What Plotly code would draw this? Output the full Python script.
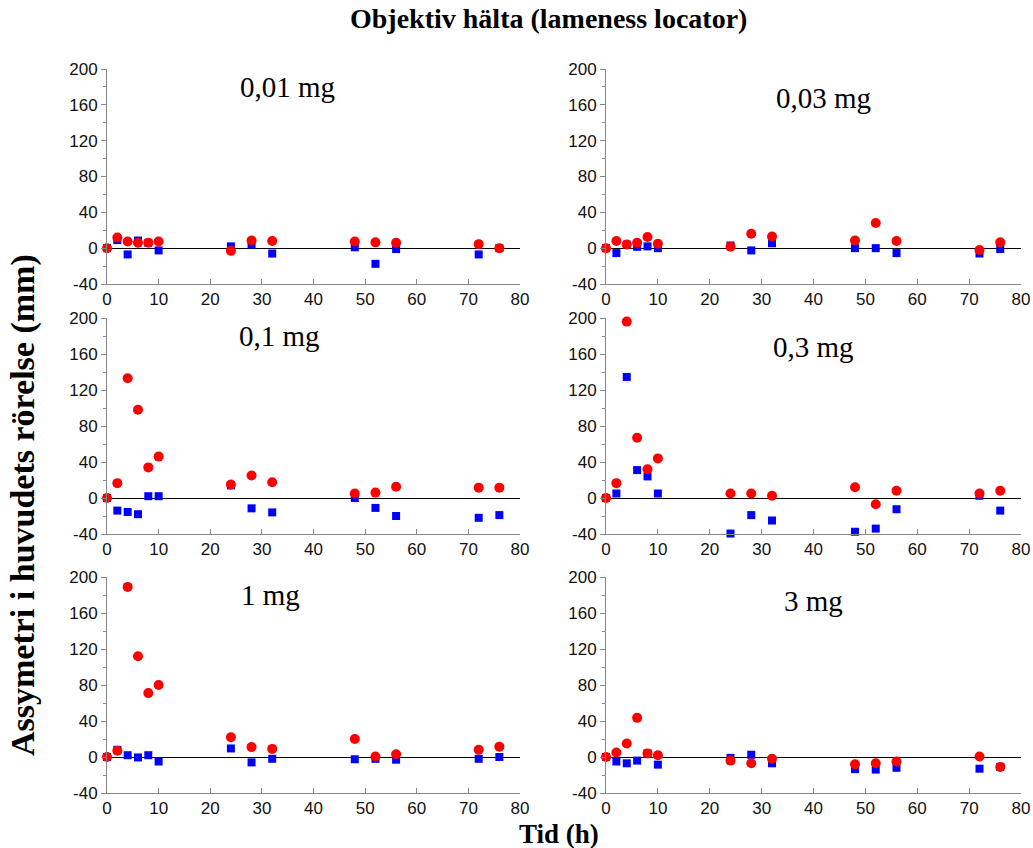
import plotly.graph_objects as go

# Sampling times (hours after dose)
tid = [0, 2, 4, 6, 8, 10, 24, 28, 32, 48, 52, 56, 72, 76]

# Dose groups
doser = ["0,01 mg", "0,03 mg", "0,1 mg", "0,3 mg", "1 mg", "3 mg"]

# Red series (circles), one list per dose
red_001 = [0, 12, 7.5, 6, 6, 7.5, -3, 8.5, 8, 7.5, 6.5, 6, 4.5, 0]
red_003 = [0, 8, 4, 6, 12.5, 5, 1.5, 16, 13, 8.5, 28, 8, -2, 6.5]
red_01 = [0, 16.5, 133, 98, 34, 46, 15, 25, 17.5, 5, 6, 12.5, 11.5, 11.5]
red_03 = [0, 16.5, 196, 67, 32, 44, 5, 5, 2.5, 12, -7, 8, 5, 8]
red_1 = [0, 7, 189, 112, 71, 80, 22, 11, 9, 20, 0.5, 3, 8, 11.5]
red_3 = [0, 5, 15, 43.5, 4, 2, -4, -7, -2, -8, -7, -5, 0.5, -11]

# Blue series (squares), one list per dose
blue_001 = [0, 9, -7, 8.5, 6, -2.5, 2, 4, -6, 1, -17.5, -1, -7, 0]
blue_003 = [0, -5.5, 4, 1.5, 2, 0, 3, -2.5, 5.5, 0, 0, -5.5, -6, -1]
blue_01 = [0, -14, -15.5, -18, 2, 2, 14, -11.5, -16, 0, -11, -20, -22, -19]
blue_03 = [0, 5, 134.5, 31, 24, 5, -39.5, -19, -25, -37.5, -34, -12.5, 2.5, -14]
blue_1 = [0, 8, 2, -0.5, 2, -5, 9.5, -6, -2, -2.5, -2, -3, -2, 0]
blue_3 = [0, -5, -7, -4, 4, -8.5, -1, 2.5, -7, -13.5, -14, -12, -13, -11]

red_series = [red_001, red_003, red_01, red_03, red_1, red_3]
blue_series = [blue_001, blue_003, blue_01, blue_03, blue_1, blue_3]

# Axis ticks
x_ticks = [0, 10, 20, 30, 40, 50, 60, 70, 80]
y_ticks = [-40, 0, 40, 80, 120, 160, 200]
y_ticktext = ["-40", "0", "40", "80", "120", "160", "200"]
y_minor = [-20, 20, 60, 100, 140, 180]

W, H = 1033, 848

# Panel layout (paper coordinates)
x_domains = [[107 / W, 520 / W], [606 / W, 1021 / W]]
y_domains = [[1 - 284 / H, 1 - 69 / H], [1 - 534 / H, 1 - 318 / H], [1 - 793 / H, 1 - 577 / H]]
# Dose label positions in data units (x, y)
label_pos = [(35, 180), (42, 168), (33.5, 180), (40, 168), (31.6, 180), (40, 173)]

SERIF = "Liberation Serif, Times New Roman, serif"
SANS = "Liberation Sans, Arial, sans-serif"

fig = go.Figure()
layout = dict(
    template="none",
    width=W, height=H,
    margin=dict(l=0, r=0, t=0, b=0, autoexpand=False),
    paper_bgcolor="white", plot_bgcolor="white",
    showlegend=False,
)

annotations = []
for i in range(6):
    row, col = divmod(i, 2)
    n = i + 1
    xa = "x" if n == 1 else f"x{n}"
    ya = "y" if n == 1 else f"y{n}"
    fig.add_trace(go.Scatter(
        x=tid, y=blue_series[i], mode="markers", xaxis=xa, yaxis=ya,
        marker=dict(symbol="square", size=8, color="#0000ff", line=dict(width=0)),
        cliponaxis=False,
    ))
    fig.add_trace(go.Scatter(
        x=tid, y=red_series[i], mode="markers", xaxis=xa, yaxis=ya,
        marker=dict(symbol="circle", size=10, color="#ff0000", line=dict(width=0)),
        cliponaxis=False,
    ))
    key = "" if n == 1 else str(n)
    layout["xaxis" + key] = dict(
        domain=x_domains[col], anchor=ya, range=[0, 80], automargin=False,
        tickmode="array", tickvals=x_ticks, ticks="inside", ticklen=5,
        tickcolor="#888888", tickwidth=1,
        showline=True, linecolor="#888888", linewidth=1,
        showgrid=False, zeroline=False,
        tickfont=dict(family=SANS, size=17, color="#111111"),
    )
    layout["yaxis" + key] = dict(
        domain=y_domains[row], anchor=xa, range=[-40, 200], automargin=False,
        tickmode="array", tickvals=y_ticks, ticktext=y_ticktext,
        ticks="outside", ticklen=5, tickcolor="#888888", tickwidth=1,
        showline=True, linecolor="#888888", linewidth=1,
        showgrid=False, zeroline=True, zerolinecolor="black", zerolinewidth=1.2,
        minor=dict(tickvals=y_minor, ticks="outside", ticklen=3,
                   tickcolor="#888888", showgrid=False),
        tickfont=dict(family=SANS, size=17, color="#111111"),
    )
    lx, ly = label_pos[i]
    annotations.append(dict(
        x=lx, y=ly, xref=xa, yref=ya, text=doser[i], showarrow=False,
        xanchor="center", yanchor="middle",
        font=dict(family=SERIF, size=29, color="black"),
    ))

annotations.append(dict(
    x=548 / W, y=1 - 19 / H, xref="paper", yref="paper", showarrow=False,
    xanchor="center", yanchor="middle",
    text="<b>Objektiv hälta (lameness locator)</b>",
    font=dict(family=SERIF, size=28, color="black"),
))
annotations.append(dict(
    x=23 / W, y=1 - 505 / H, xref="paper", yref="paper", showarrow=False,
    xanchor="center", yanchor="middle",
    text="<b>Assymetri i huvudets rörelse (mm)</b>", textangle=-90,
    font=dict(family=SERIF, size=34, color="black"),
))
annotations.append(dict(
    x=559 / W, y=1 - 834 / H, xref="paper", yref="paper", showarrow=False,
    xanchor="center", yanchor="middle",
    text="<b>Tid (h)</b>",
    font=dict(family=SERIF, size=27, color="black"),
))
layout["annotations"] = annotations

fig.update_layout(**layout)
fig.write_html("out.html")
